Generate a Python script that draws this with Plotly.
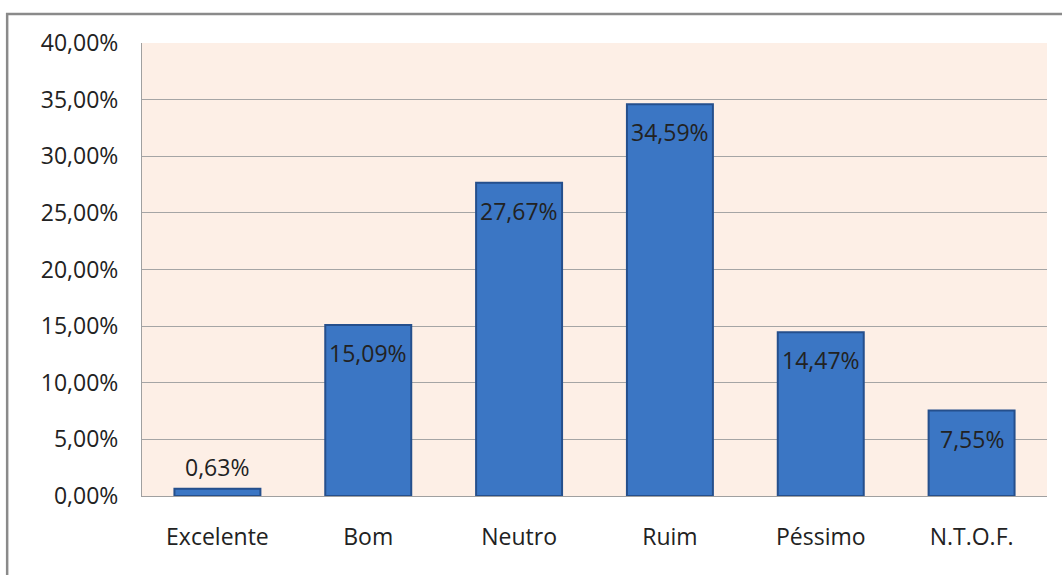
import plotly.graph_objects as go

categories = ["Excelente", "Bom", "Neutro", "Ruim", "Péssimo", "N.T.O.F."]
values = [0.63, 15.09, 27.67, 34.59, 14.47, 7.55]
label_texts = ["0,63%", "15,09%", "27,67%", "34,59%", "14,47%", "7,55%"]
tick_vals = [0, 5, 10, 15, 20, 25, 30, 35, 40]
tick_texts = ["0,00%", "5,00%", "10,00%", "15,00%", "20,00%", "25,00%", "30,00%", "35,00%", "40,00%"]

FONT = "Open Sans"
fig = go.Figure()
fig.add_trace(go.Bar(
    x=categories, y=values, width=0.57,
    marker=dict(color="#3B76C4", line=dict(color="#254F8C", width=2)),
    hoverinfo="skip",
))

annotations = []
for c, v, t in zip(categories, values, label_texts):
    inside = v > 3
    annotations.append(dict(
        x=c, y=v, xref="x", yref="y", text=t, showarrow=False,
        yanchor="top" if inside else "bottom",
        yshift=-10 if inside else 4,
        font=dict(family=FONT, size=23, color="#222222"),
    ))

fig.update_layout(
    width=1062, height=575,
    margin=dict(l=142, r=15, t=43, b=79),
    paper_bgcolor="white", plot_bgcolor="#FDEFE6",
    showlegend=False,
    annotations=annotations,
    shapes=[dict(type="rect", xref="paper", yref="paper",
                 x0=-0.149, x1=1.1, y0=-0.3, y1=1.064,
                 line=dict(color="#8A8A8A", width=2.5), layer="below")],
    xaxis=dict(showgrid=False, showline=True, linecolor="#A0A0A0", linewidth=1,
               ticks="", tickfont=dict(family=FONT, size=23, color="#222222"),
               ticklabelstandoff=20),
    yaxis=dict(range=[0, 40], tickvals=tick_vals, ticktext=tick_texts,
               showgrid=True, gridcolor="#A5A5A5", gridwidth=1,
               showline=True, linecolor="#A0A0A0", linewidth=1, zeroline=False,
               ticks="", tickfont=dict(family=FONT, size=23, color="#222222"),
               ticklabelstandoff=18),
)
fig.write_html("out.html")
